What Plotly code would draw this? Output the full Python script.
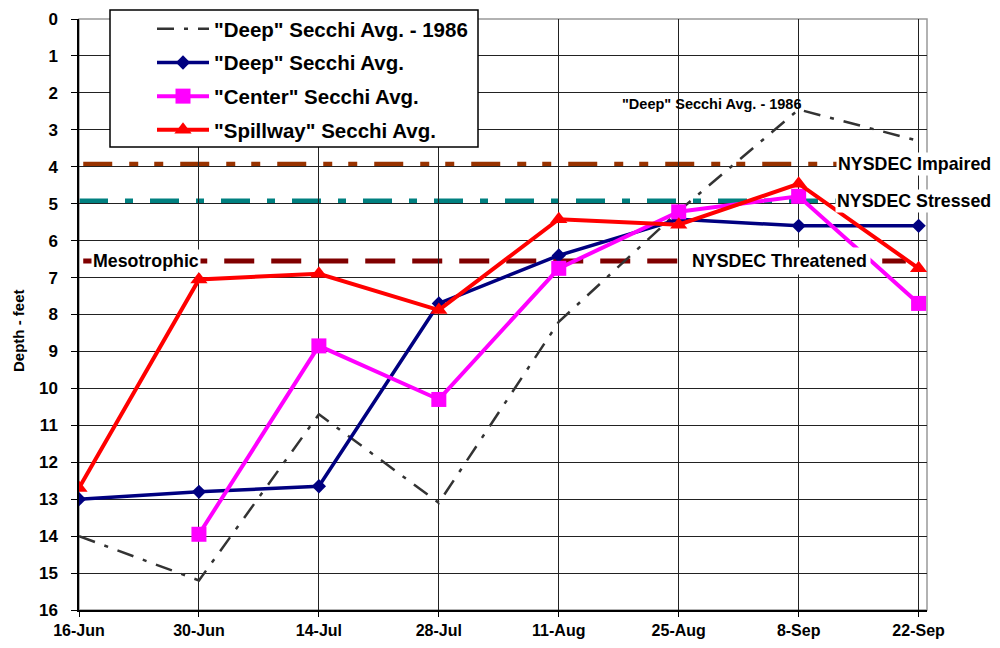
import plotly.graph_objects as go

categories = ["16-Jun", "30-Jun", "14-Jul", "28-Jul", "11-Aug", "25-Aug", "8-Sep", "22-Sep"]
deep_1986 = [14.0, 15.2, 10.7, 13.1, 8.2, 5.2, 2.45, 3.3]
deep_avg = [13.0, 12.8, 12.65, 7.7, 6.4, 5.42, 5.6, 5.6]
center_avg = [None, 13.95, 8.85, 10.3, 6.75, 5.22, 4.8, 7.7]
spillway_avg = [12.7, 7.05, 6.9, 7.88, 5.42, 5.57, 4.46, 6.75]

impaired_level = 3.93
stressed_level = 4.93
threatened_level = 6.55

FONT = "Liberation Sans, Arial, sans-serif"
NARROW = "Liberation Sans Narrow, Arial Narrow, Liberation Sans, Arial, sans-serif"

# page body has an 8px margin; figure placed at (8,8)
OFF = 8
FIG_W, FIG_H = 1000 - 2 * OFF, 648 - 2 * OFF
# plot area in window px: left 79, right 927, top 19, bottom 610
PL, PR, PT, PB = 79, 927, 19, 610
def px_x(v):
    return (v - PL) / (PR - PL)
def px_y(v):
    return (PB - v) / (PB - PT)

fig = go.Figure()
fig.add_trace(go.Scatter(
    x=categories, y=deep_1986, mode="lines", name='"Deep" Secchi Avg. - 1986',
    line=dict(color="#333333", width=2.5, dash="17px,10px,4px,10px"), legendgroup="a"))
fig.add_trace(go.Scatter(
    x=categories, y=deep_avg, mode="lines+markers", name='"Deep" Secchi Avg.',
    line=dict(color="#000080", width=3.5), marker=dict(symbol="diamond", size=11, color="#000080"),
    legendgroup="b"))
fig.add_trace(go.Scatter(
    x=categories, y=center_avg, mode="lines+markers", name='"Center" Secchi Avg.',
    line=dict(color="#FF00FF", width=4), marker=dict(symbol="square", size=15, color="#FF00FF"),
    connectgaps=False, legendgroup="c"))
fig.add_trace(go.Scatter(
    x=categories, y=spillway_avg, mode="lines+markers", name='"Spillway" Secchi Avg.',
    line=dict(color="#FF0000", width=4), marker=dict(symbol="triangle-up", size=15, color="#FF0000"),
    legendgroup="d"))

# threshold lines
fig.add_shape(type="line", xref="paper", yref="y", x0=0.005, x1=1, y0=impaired_level, y1=impaired_level,
              line=dict(color="#993300", width=5, dash="29px,17px,9px,16px,9px,17px"), layer="between")
fig.add_shape(type="line", xref="paper", yref="y", x0=0.0, x1=1, y0=stressed_level, y1=stressed_level,
              line=dict(color="#008080", width=5, dash="29px,17px,8px,17px"), layer="between")
fig.add_shape(type="line", xref="paper", yref="y", x0=0.005, x1=0.975, y0=threatened_level, y1=threatened_level,
              line=dict(color="#800000", width=5, dash="30px,17px"), layer="between")
# plot border (top/right grey)
fig.add_shape(type="rect", xref="paper", yref="paper", x0=0, x1=1, y0=0, y1=1,
              line=dict(color="#999999", width=1.5), layer="below")
# legend frame
fig.add_shape(type="rect", xref="paper", yref="paper", x0=px_x(110), x1=px_x(478),
              y0=px_y(147), y1=px_y(10), line=dict(color="black", width=1.5),
              fillcolor="white", layer="above")

ann_font = dict(family=FONT, size=17.8, color="black", weight="bold")
fig.add_annotation(x=6.31, y=impaired_level, xref="x", yref="y", text="NYSDEC Impaired",
                   showarrow=False, xanchor="left", yanchor="middle", font=ann_font, bgcolor="white")
fig.add_annotation(x=6.3, y=stressed_level, xref="x", yref="y", text="NYSDEC Stressed",
                   showarrow=False, xanchor="left", yanchor="middle", font=ann_font, bgcolor="white")
fig.add_annotation(x=5.08, y=threatened_level, xref="x", yref="y", text="NYSDEC Threatened",
                   showarrow=False, xanchor="left", yanchor="middle", font=ann_font, bgcolor="white",
                   borderpad=3)
fig.add_annotation(x=0.1, y=threatened_level, xref="x", yref="y", text="Mesotrophic",
                   showarrow=False, xanchor="left", yanchor="middle", font=ann_font, bgcolor="white")
fig.add_annotation(x=4.51, y=2.3, xref="x", yref="y", text='"Deep" Secchi Avg. - 1986',
                   showarrow=False, xanchor="left", yanchor="middle",
                   font=dict(family=FONT, size=14.5, color="black", weight="bold"))
# y-axis title
fig.add_annotation(x=px_x(18), y=px_y(331), xref="paper", yref="paper", text="Depth - feet",
                   showarrow=False, textangle=-90, xanchor="center", yanchor="middle",
                   font=dict(family=FONT, size=15, color="black", weight="bold"))

fig.update_layout(
    width=FIG_W, height=FIG_H,
    margin=dict(l=PL - OFF, r=(1000 - OFF) - PR, t=PT - OFF, b=(648 - OFF) - PB, autoexpand=False),
    plot_bgcolor="white", paper_bgcolor="white",
    font=dict(family=FONT, color="black"),
    showlegend=True,
    legend=dict(x=px_x(152), y=px_y(9), xanchor="left", yanchor="top",
                bgcolor="rgba(0,0,0,0)", borderwidth=0,
                font=dict(family=FONT, size=20.5, color="black", weight="bold"),
                traceorder="grouped", tracegroupgap=4, itemwidth=52),
    xaxis=dict(type="category", range=[0, 7.07], showgrid=True, gridcolor="#222222", gridwidth=1,
               showline=True, linecolor="black", linewidth=1.5, ticks="outside", ticklen=5,
               tickcolor="black", tickfont=dict(family=NARROW, size=16, weight="bold"),
               zeroline=False, automargin=False),
    yaxis=dict(range=[16, 0], dtick=1, showgrid=True, gridcolor="#222222", gridwidth=1,
               showline=True, linecolor="black", linewidth=1.5, ticks="outside", ticklen=6,
               tickcolor="black", tickfont=dict(family=FONT, size=17, weight="bold"),
               ticklabelstandoff=10, zeroline=False, automargin=False),
)

fig.write_html("out.html")
